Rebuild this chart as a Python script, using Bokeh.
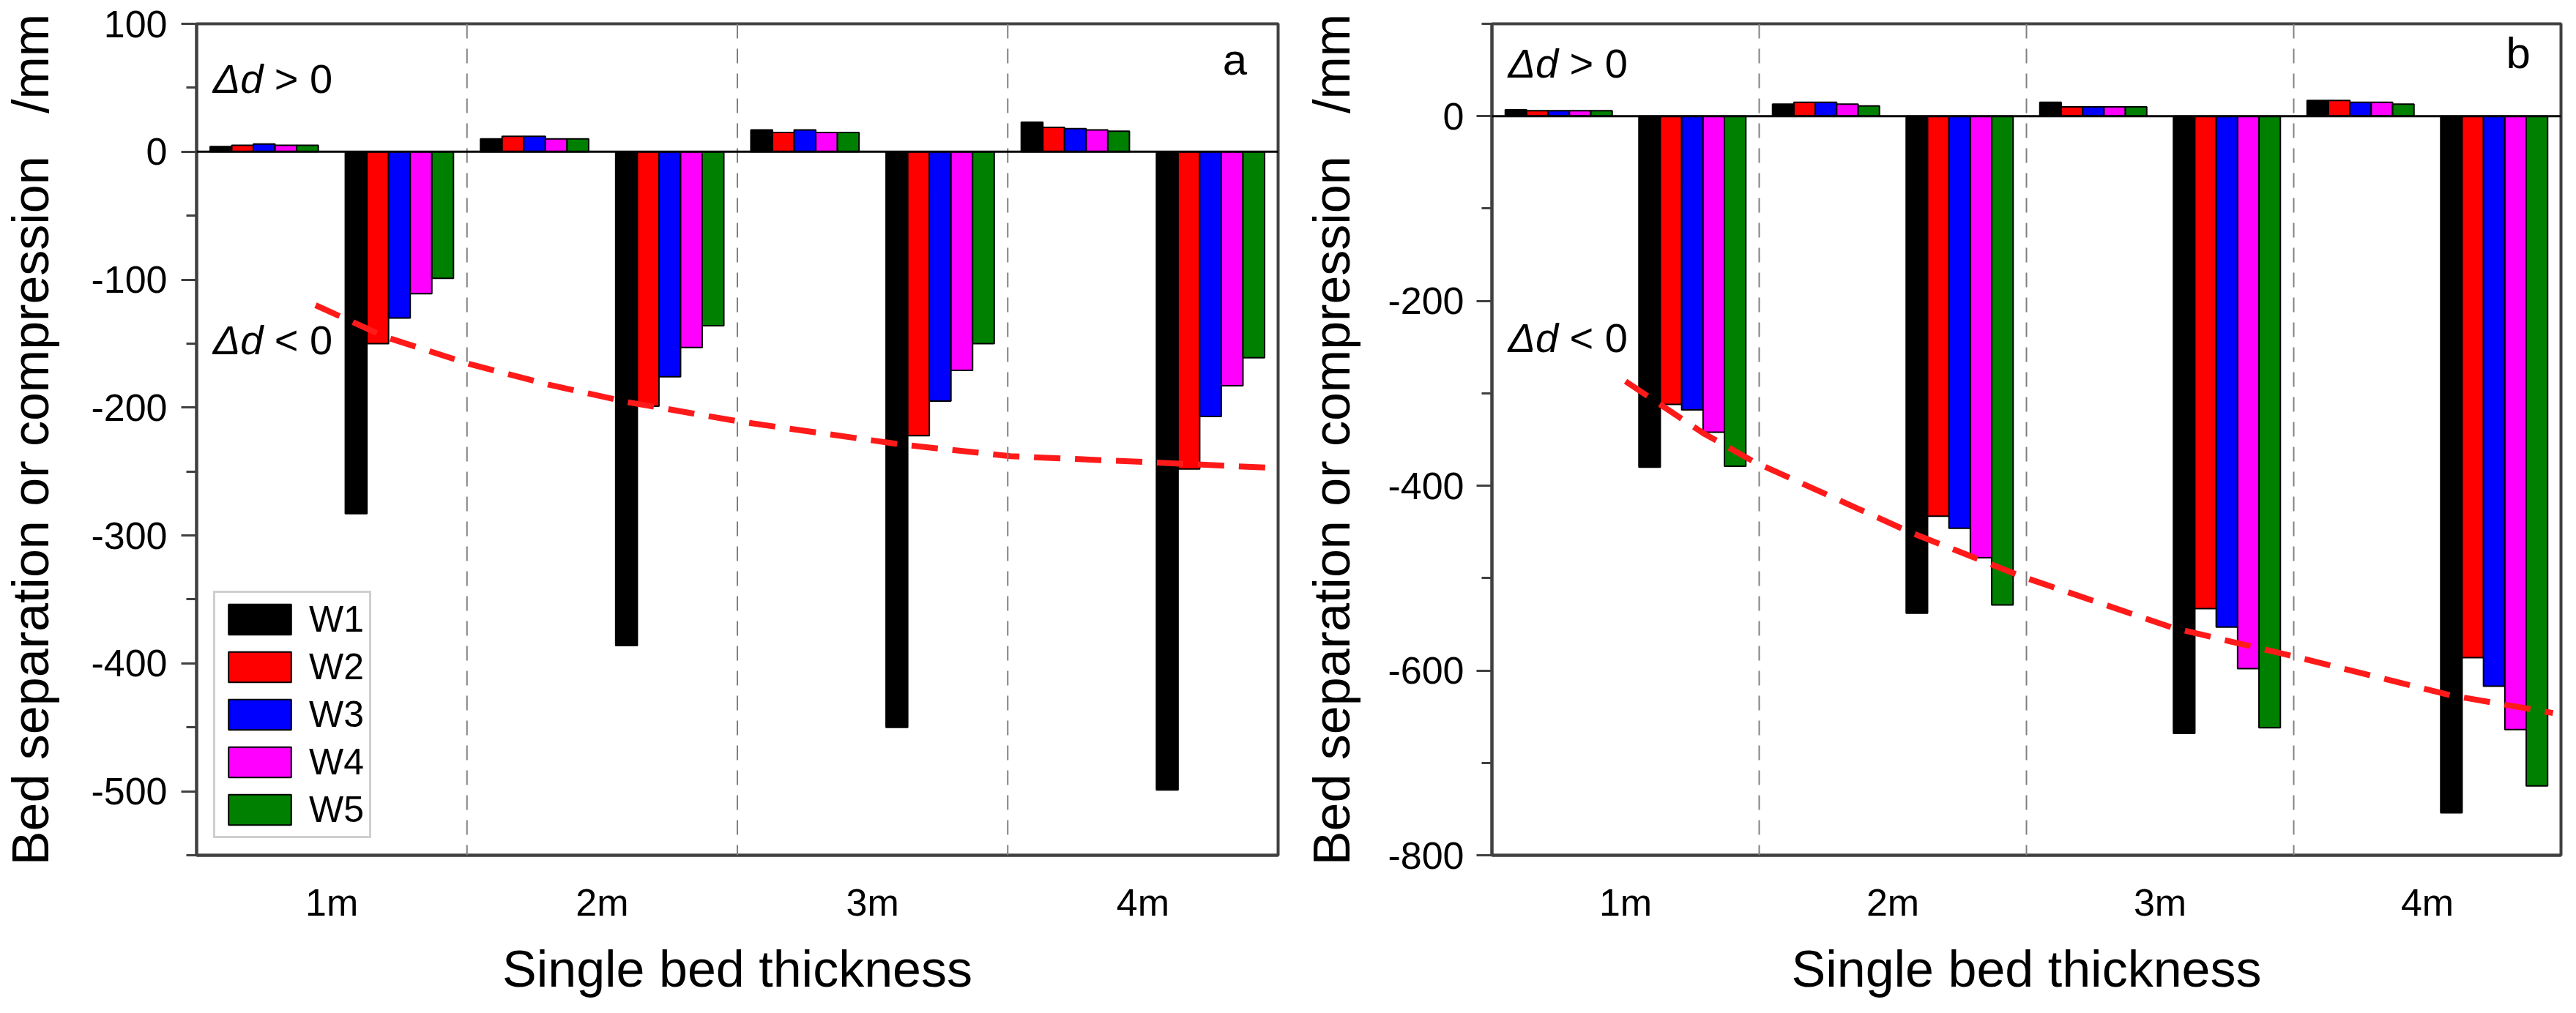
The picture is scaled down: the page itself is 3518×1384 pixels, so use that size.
from bokeh.plotting import figure
from bokeh.models import (Span, Legend, LegendItem, FixedTicker,
                          SingleIntervalTicker, PrintfTickFormatter)
from bokeh.layouts import row
from bokeh.core.properties import value
from bokeh.embed import file_html
from bokeh.resources import INLINE

# single bed thickness (m) and working faces
thickness = [1, 2, 3, 4]
thick_labels = ["1m", "2m", "3m", "4m"]
series = ["W1", "W2", "W3", "W4", "W5"]
colors = ["#000000", "#ff0000", "#0000ff", "#ff00ff", "#008000"]

# panel a -- bed separation (d > 0) per face, 1m..4m
a_sep_W1 = [4, 10, 17, 23]
a_sep_W2 = [5, 12, 15, 19]
a_sep_W3 = [6, 12, 17, 18]
a_sep_W4 = [5, 10, 15, 17]
a_sep_W5 = [5, 10, 15, 16]
# panel a -- compression (d < 0)
a_comp_W1 = [-283, -386, -450, -499]
a_comp_W2 = [-150, -199, -222, -248]
a_comp_W3 = [-130, -176, -195, -207]
a_comp_W4 = [-111, -153, -171, -183]
a_comp_W5 = [-99, -136, -150, -161]
# panel a -- trend line of compression
a_trend_x = [0.94, 1.2, 1.51, 1.8, 2.1, 2.51, 3.11, 3.51, 4.05, 4.46]
a_trend_y = [-120, -145, -166, -182, -196, -211, -229, -238, -243, -247]

# panel b
b_sep_W1 = [7, 13, 15, 17]
b_sep_W2 = [6, 15, 10, 17]
b_sep_W3 = [6, 15, 10, 15]
b_sep_W4 = [6, 13, 10, 15]
b_sep_W5 = [6, 11, 10, 13]
b_comp_W1 = [-380, -538, -668, -754]
b_comp_W2 = [-312, -433, -533, -586]
b_comp_W3 = [-318, -446, -553, -617]
b_comp_W4 = [-342, -478, -598, -664]
b_comp_W5 = [-379, -529, -662, -725]
b_trend_x = [1.0, 1.29, 1.48, 2.07, 2.49, 3.05, 3.49, 4.09, 4.47]
b_trend_y = [-287, -343, -374, -451, -499, -554, -584, -627, -646]

AXIS = "#404040"
FONT = "Liberation Sans"
SANS = value(FONT)
BW = 0.08  # bar width in category units


def panel(sep, comp, trend_x, trend_y, yr, step, tag, w, left, right, top,
          std_tick, std_lab, legend=False):
    p = figure(width=w, height=1368, x_range=(0.5, 4.5), y_range=yr,
               output_backend="svg", toolbar_location=None, tools="",
               min_border_left=left, min_border_right=right,
               min_border_top=top, min_border_bottom=200)
    p.grid.visible = False
    p.outline_line_color = AXIS
    p.outline_line_width = 4
    p.background_fill_color = "white"

    for xv in [1.5, 2.5, 3.5]:
        p.add_layout(Span(location=xv, dimension="height", line_color="#808080",
                          line_width=2, line_dash="20 14"))

    items = []
    for i, (s, c) in enumerate(zip(series, colors)):
        off = (i - 2) * BW
        p.vbar(x=[t - 0.25 + off for t in thickness], top=sep[i], bottom=0,
               width=BW, fill_color=c, line_color="black", line_width=2)
        r = p.vbar(x=[t + 0.25 + off for t in thickness], top=0, bottom=comp[i],
                   width=BW, fill_color=c, line_color="black", line_width=2)
        items.append(LegendItem(label=s, renderers=[r]))

    p.add_layout(Span(location=0, dimension="width", line_color="black", line_width=3))

    p.line(trend_x, trend_y, line_color="#ff1a1a", line_width=8, line_dash="36 20")

    # annotations
    ty_pos, ty_neg = tag[1], tag[2]
    for yv, sym in [(ty_pos, "> 0"), (ty_neg, "< 0")]:
        p.text(x=[0.56], y=[yv], text=["\u0394d"], text_font=SANS,
               text_font_style="italic", text_font_size="56px",
               text_baseline="middle", text_color="black")
        p.text(x=[0.56], y=[yv], text=[sym], text_font=SANS, x_offset=84,
               text_font_size="56px", text_baseline="middle", text_color="black")
    p.text(x=[4.34], y=[tag[3]], text=[tag[0]], text_font=SANS,
           text_font_size="60px", text_align="center", text_baseline="middle",
           text_color="black")

    # y axis
    ya = p.yaxis[0]
    ya.ticker = SingleIntervalTicker(interval=step, num_minor_ticks=2)
    ya.formatter = PrintfTickFormatter(format="%d")
    ya.axis_line_color = AXIS
    ya.axis_line_width = 4
    ya.major_tick_line_color = AXIS
    ya.minor_tick_line_color = AXIS
    ya.major_tick_line_width = 3
    ya.minor_tick_line_width = 3
    ya.major_tick_out = 21
    ya.major_tick_in = 0
    ya.minor_tick_out = 14
    ya.minor_tick_in = 0
    ya.major_label_standoff = std_tick
    ya.major_label_text_font = FONT
    ya.major_label_text_font_size = "52px"
    ya.major_label_text_color = "black"
    ya.axis_label = "Bed separation or compression\u00a0\u00a0 /mm"
    ya.axis_label_text_font = FONT
    ya.axis_label_text_font_style = "normal"
    ya.axis_label_text_font_size = "70px"
    ya.axis_label_text_color = "black"
    ya.axis_label_standoff = std_lab

    # x axis
    xa = p.xaxis[0]
    xa.ticker = FixedTicker(ticks=thickness)
    xa.major_label_overrides = dict(zip(thickness, thick_labels))
    xa.axis_line_color = AXIS
    xa.axis_line_width = 4
    xa.major_tick_out = 0
    xa.major_tick_in = 0
    xa.minor_tick_out = 0
    xa.major_label_standoff = 35
    xa.major_label_text_font = FONT
    xa.major_label_text_font_size = "52px"
    xa.major_label_text_color = "black"
    xa.axis_label = "Single bed thickness"
    xa.axis_label_text_font = FONT
    xa.axis_label_text_font_style = "normal"
    xa.axis_label_text_font_size = "70px"
    xa.axis_label_text_color = "black"
    xa.axis_label_standoff = 20

    if legend:
        lg = Legend(items=items, location=(23, 23), orientation="vertical",
                    glyph_width=107, glyph_height=52, label_height=52,
                    spacing=7, padding=7, margin=0, label_standoff=14,
                    label_text_font=FONT, label_text_font_size="50px",
                    label_text_color="black",
                    border_line_color="#a0a0a0", border_line_width=3,
                    background_fill_color="white", background_fill_alpha=1)
        p.add_layout(lg, "center")
    return p


pa = panel([a_sep_W1, a_sep_W2, a_sep_W3, a_sep_W4, a_sep_W5],
           [a_comp_W1, a_comp_W2, a_comp_W3, a_comp_W4, a_comp_W5],
           a_trend_x, a_trend_y, (-550, 100), 100, ("a", 57, -147, 72),
           w=1752, left=255, right=7, top=32, std_tick=19, std_lab=40,
           legend=True)
pb = panel([b_sep_W1, b_sep_W2, b_sep_W3, b_sep_W4, b_sep_W5],
           [b_comp_W1, b_comp_W2, b_comp_W3, b_comp_W4, b_comp_W5],
           b_trend_x, b_trend_y, (-800, 100), 200, ("b", 57, -240, 68),
           w=1750, left=285, right=5, top=22, std_tick=17, std_lab=34)

layout = row(pa, pb)
open("out.html", "w").write(file_html(layout, INLINE))
